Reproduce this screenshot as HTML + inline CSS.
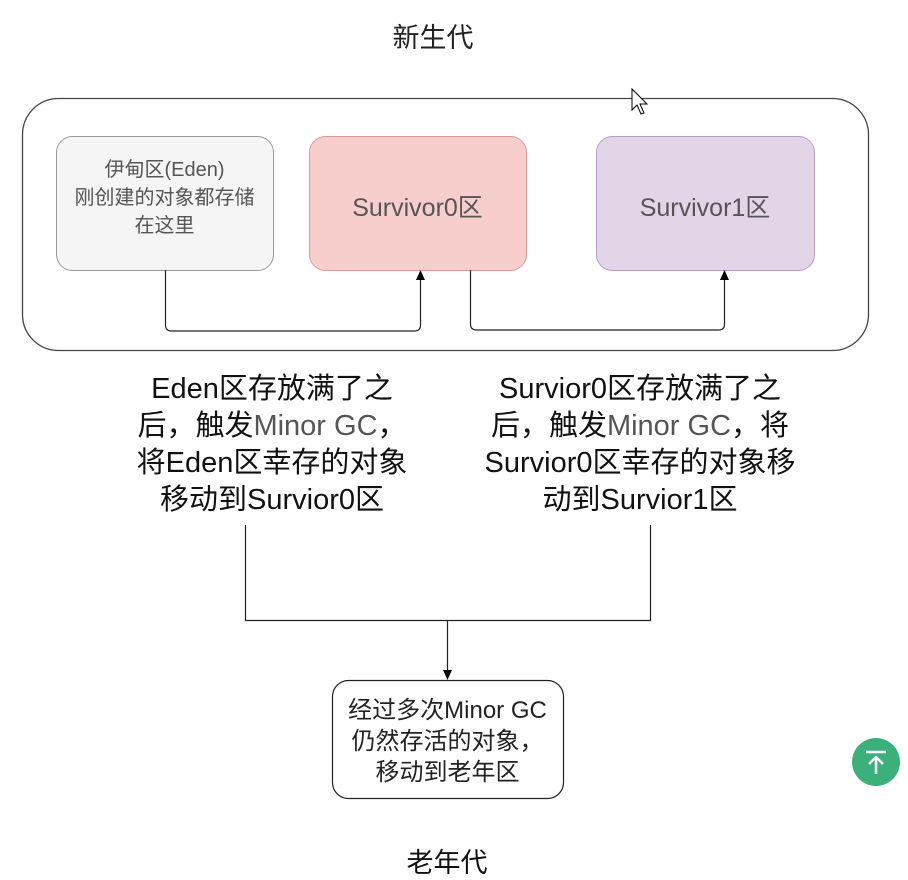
<!DOCTYPE html>
<html><head><meta charset="utf-8"><style>
body{margin:0;background:#fff;width:908px;height:878px;overflow:hidden;font-family:"Liberation Sans","Noto Sans CJK SC",sans-serif}
.t{position:absolute;text-align:center;white-space:nowrap}
</style></head><body>
<svg width="908" height="878" style="position:absolute;left:0;top:0">
<rect x="22.5" y="98.5" width="846" height="252" rx="36" fill="#fff" stroke="#444" stroke-width="1.3"/>
<rect x="56.5" y="136.5" width="217" height="134" rx="16" fill="#f5f5f5" stroke="#999"/>
<rect x="309.5" y="136.5" width="217" height="134" rx="16" fill="#f8cecc" stroke="#d79b95"/>
<rect x="596.5" y="136.5" width="218" height="134" rx="16" fill="#e1d5e7" stroke="#b99cc6"/>
<path d="M165.5,270 V325 Q165.5,331 171.5,331 H414.5 Q420.5,331 420.5,325 V278" fill="none" stroke="#222" stroke-width="1.2"/>
<path d="M416,280 L420.5,270 L425,280 Z" fill="#000"/>
<path d="M470.5,270 V324 Q470.5,330 476.5,330 H718.5 Q724.5,330 724.5,324 V278" fill="none" stroke="#222" stroke-width="1.2"/>
<path d="M720,280 L724.5,270 L729,280 Z" fill="#000"/>
<path d="M245.5,525 V620.5 H650.5 V525" fill="none" stroke="#222" stroke-width="1.2"/>
<path d="M447.5,620 V672" fill="none" stroke="#222" stroke-width="1.2"/>
<path d="M443,670 L447.5,680 L452,670 Z" fill="#000"/>
<rect x="332.5" y="680.5" width="231" height="118" rx="16" fill="#fff" stroke="#222" stroke-width="1.2"/>
<circle cx="876" cy="762" r="24" fill="#3cb07a"/>
<path d="M866,752 H886 M876,774 V757 M869,764 L876,757 L883,764" stroke="#fff" stroke-width="2.5" fill="none"/>
<path d="M632,89 V110 L637,105 L641,114 L644,113 L640,104 L647,104 Z" fill="#fff" stroke="#000" stroke-width="1"/>
</svg>
<div class="t" style="left:333px;top:16px;width:200px;font-size:27px;color:#222">新生代</div>
<div class="t" style="left:46px;top:156px;width:237px;font-size:20px;line-height:28px;color:#555">伊甸区(Eden)<br>刚创建的对象都存储<br>在这里</div>
<div class="t" style="left:299px;top:188px;width:237px;font-size:25px;color:#555">Survivor0区</div>
<div class="t" style="left:586px;top:188px;width:238px;font-size:25px;color:#555">Survivor1区</div>
<div class="t" style="left:72px;top:371px;width:400px;font-size:29px;line-height:37px;color:#111">Eden区存放满了之<br>后，触发<span style="color:#555">Minor GC</span>，<br>将Eden区幸存的对象<br>移动到Survior0区</div>
<div class="t" style="left:440px;top:371px;width:400px;font-size:29px;line-height:37px;color:#111">Survior0区存放满了之<br>后，触发<span style="color:#555">Minor GC</span>，将<br>Survior0区幸存的对象移<br>动到Survior1区</div>
<div class="t" style="left:322px;top:695px;width:251px;font-size:24px;line-height:31px;color:#222">经过多次Minor GC<br>仍然存活的对象，<br>移动到老年区</div>
<div class="t" style="left:347px;top:841px;width:200px;font-size:27px;color:#111">老年代</div>
</body></html>
